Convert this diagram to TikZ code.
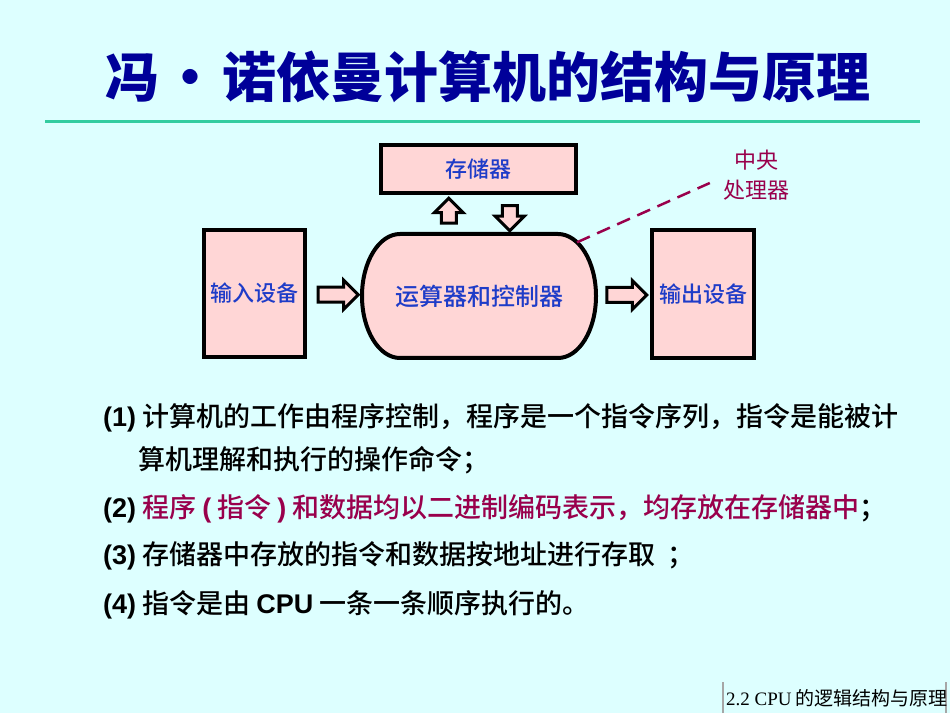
\documentclass[tikz,border=0pt]{standalone}
\usepackage{fontspec}
\setmainfont{Noto Sans CJK SC}
\newfontfamily\medfont[UprightFont={* Medium}]{Noto Sans CJK SC}
\newfontfamily\latfont{Liberation Sans}
\newfontfamily\serfont{Liberation Serif}
\usetikzlibrary{shapes.arrows,calc}

\definecolor{bgcyan}{RGB}{221,255,255}
\definecolor{titleblue}{RGB}{0,0,153}
\definecolor{rulegreen}{RGB}{51,204,160}
\definecolor{boxpink}{RGB}{255,214,214}
\definecolor{boxblue}{RGB}{30,60,200}
\definecolor{cpured}{RGB}{153,0,76}

\begin{document}
\begin{tikzpicture}[x=1pt,y=1pt,
    box/.style={draw=black, line width=4pt, fill=boxpink, text=boxblue,
        inner sep=0pt, font=\fontsize{22}{26}\medfont},
    blockarrow/.style={single arrow, draw=black, line width=3pt, fill=boxpink,
        inner sep=6pt, minimum height=40pt, single arrow head extend=7pt},
    item/.style={anchor=west, inner sep=0pt, font=\fontsize{27}{30}\medfont}]

    %----- BACKGROUND -----
    \fill[bgcyan] (0,0) rectangle (950,713);
    \useasboundingbox (0,0) rectangle (950,713);

    %----- TITLE -----
    \node[font=\fontsize{54}{58}\selectfont\bfseries, text=titleblue] (title)
        at (488,636) {冯\hspace{5pt}·\hspace{5pt}诺依曼计算机的结构与原理};
    \draw[rulegreen, line width=3pt] (45,591) -- (920,591);

    %----- BOXES -----
    \node[box, minimum width=195pt, minimum height=48pt] (mem) at (478.5,544) {存储器};
    \node[box, minimum width=101pt, minimum height=127pt] (in) at (254.5,419.5) {输入设备};
    \node[box, minimum width=102pt, minimum height=128pt] (out) at (703,419) {输出设备};

    % rounded middle shape
    \coordinate (alupos) at (479,417);
    \draw[line width=4pt, fill=boxpink]
        ($(alupos)+(-79,62)$) -- ($(alupos)+(79,62)$)
        arc[start angle=90, end angle=-90, x radius=38, y radius=62]
        -- ($(alupos)+(-79,-62)$)
        arc[start angle=270, end angle=90, x radius=38, y radius=62] -- cycle;
    \node[text=boxblue, font=\fontsize{24}{28}\medfont,
        minimum width=234pt, minimum height=124pt] (alu) at (alupos) {运算器和控制器};

    %----- BLOCK ARROWS -----
    \node[blockarrow] (inarr) at ($(in.east)!0.5!(alu.west)$) {};
    \node[blockarrow] (outarr) at ($(alu.east)!0.5!(out.west)$) {};
    \node[blockarrow, minimum height=25pt, shape border rotate=90]
        (uparr) at ($($(mem.south)!0.5!(alu.north)$)+(-30,0)$) {};
    \node[blockarrow, minimum height=25pt, shape border rotate=270]
        (downarr) at ($($(mem.south)!0.5!(alu.north)$)+(31,0)$) {};

    %----- CPU LABEL -----
    \node[text=cpured, align=center, inner sep=0pt,
        font=\fontsize{22}{30}\selectfont] (cpu) at (756,538) {中央\\处理器};
    \coordinate (cpuend) at ($(cpu.west)+(-13,-8)$);
    \draw[cpured, line width=2.5pt, dash pattern=on 14pt off 8pt]
        ($(alupos)+(79,0)+(60:38 and 62)$) -- (cpuend);

    %----- PRINCIPLES -----
    \node[item] (line1) at (103,295)
        {{\latfont\bfseries (1)} 计算机的工作由程序控制，程序是一个指令序列，指令是能被计};
    \node[item] (line1b) at (138,253) {算机理解和执行的操作命令；};
    \node[item] (line2) at (103,204)
        {{\latfont\bfseries (2)} \textcolor{cpured}{程序 {\latfont\bfseries (} 指令 {\latfont\bfseries )} 和数据均以二进制编码表示，均存放在存储器中}；};
    \node[item] (line3) at (103,157)
        {{\latfont\bfseries (3)} 存储器中存放的指令和数据按地址进行存取\hspace{12pt}；};
    \node[item] (line4) at (103,108)
        {{\latfont\bfseries (4)} 指令是由 {\latfont\bfseries CPU} 一条一条顺序执行的。};

    %----- FOOTER -----
    \draw[gray!70, line width=1.5pt] (723,0) -- (723,31);
    \draw[gray!70, line width=1.5pt] (946,0) -- (946,31);
    \node[anchor=west, inner sep=0pt, font=\fontsize{19}{22}\selectfont] (foot)
        at (726,15) {{\serfont 2.2 CPU} 的逻辑结构与原理};

\end{tikzpicture}
\end{document}
